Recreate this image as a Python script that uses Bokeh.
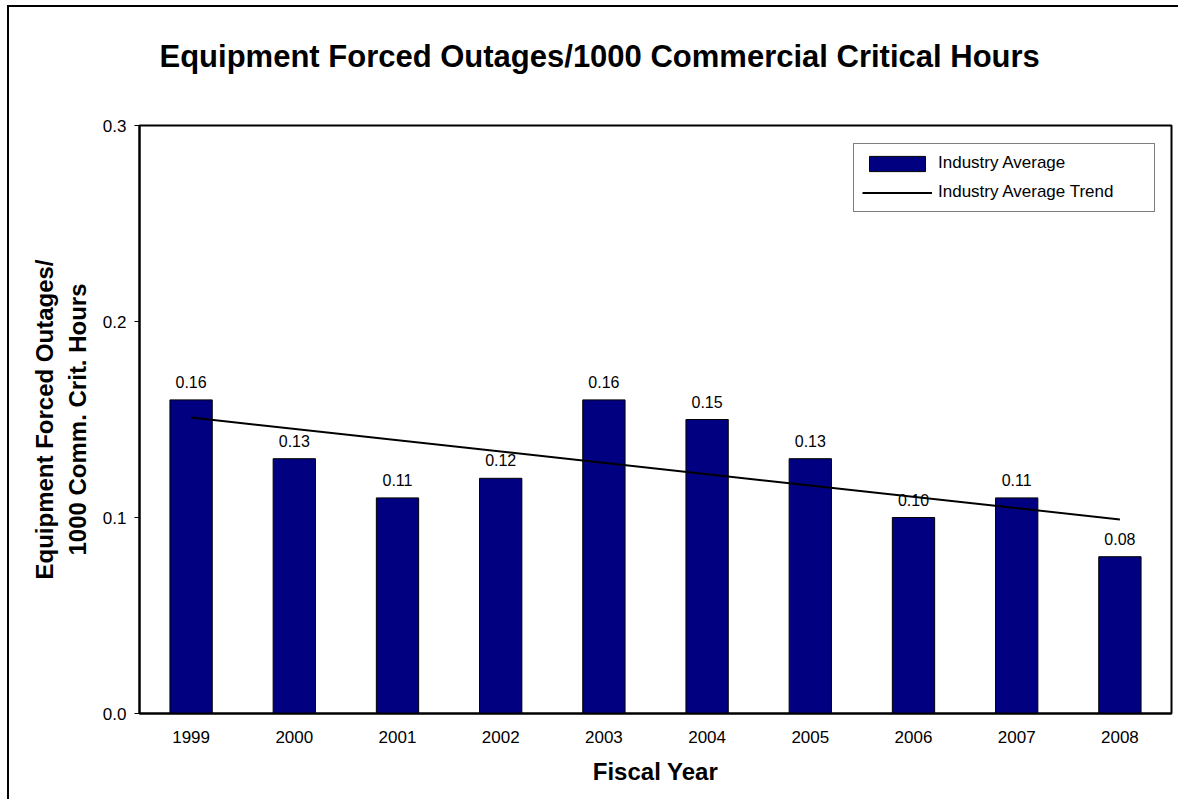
from bokeh.plotting import figure
from bokeh.models import ColumnDataSource, FixedTicker, NumeralTickFormatter, Title, Legend, LegendItem, Range1d, FactorRange
from bokeh.core.properties import value
from bokeh.embed import file_html
from bokeh.resources import INLINE

years = ["1999", "2000", "2001", "2002", "2003", "2004", "2005", "2006", "2007", "2008"]
industry_avg = [0.16, 0.13, 0.11, 0.12, 0.16, 0.15, 0.13, 0.10, 0.11, 0.08]
trend_years = ["1999", "2008"]
trend_vals = [0.151, 0.099]
y_ticks = [0.0, 0.1, 0.2, 0.3]

FONT = "Liberation Sans"

src = ColumnDataSource(dict(
    year=years,
    val=industry_avg,
    lbl=[f"{v:.2f}" for v in industry_avg],
))

p = figure(
    title="Equipment Forced Outages/1000 Commercial Critical Hours",
    x_range=FactorRange(*years, range_padding=0),
    y_range=Range1d(0, 0.3),
    frame_width=1032, frame_height=588,
    min_border_left=130, min_border_top=118, min_border_right=7, min_border_bottom=86,
    output_backend="svg", toolbar_location=None,
    background_fill_color="white", border_fill_color="white",
    styles={"border-left": "2px solid black", "border-top": "2px solid black",
            "margin-left": "7px", "margin-top": "5px"},
)

# spacer between frame and title (keeps the title high above the frame)
spacer = Title(text=" ", text_font_size="1px", standoff=49)
p.add_layout(spacer, "above")

p.title.align = "left"
p.title.offset = 20
p.title.standoff = 0
p.title.text_font = FONT
p.title.text_font_size = "31px"
p.title.text_font_style = "bold"
p.title.text_color = "black"

bars = p.vbar(x="year", top="val", width=0.41, source=src,
              fill_color="#000080", line_color="black", line_width=1)
trend = p.line(x=trend_years, y=trend_vals, line_color="black", line_width=2)

p.text(x="year", y="val", text="lbl", source=src, y_offset=-18,
       text_align="center", text_baseline="alphabetic",
       text_font=value(FONT), text_font_size="16px", text_color="black")

# grid / outline
p.xgrid.grid_line_color = None
p.ygrid.grid_line_color = None
p.outline_line_color = "black"
p.outline_line_width = 2
p.outline_line_alpha = 1

# y axis
p.yaxis.ticker = FixedTicker(ticks=y_ticks)
p.yaxis.formatter = NumeralTickFormatter(format="0.0")
p.yaxis.minor_tick_line_color = None
p.yaxis.major_tick_out = 5
p.yaxis.major_tick_in = 0
p.yaxis.major_label_standoff = 8
p.yaxis.axis_line_width = 2
p.yaxis.axis_line_color = "black"
p.yaxis.major_label_text_font = FONT
p.yaxis.major_label_text_font_size = "17px"
p.yaxis.major_label_text_color = "black"
p.yaxis.axis_label = "Equipment Forced Outages/\n1000 Comm. Crit. Hours"
p.yaxis.axis_label_text_font = FONT
p.yaxis.axis_label_text_font_size = "24px"
p.yaxis.axis_label_text_font_style = "bold"
p.yaxis.axis_label_text_color = "black"
p.yaxis.axis_label_standoff = 9

# x axis
p.xaxis.major_tick_line_color = None
p.xaxis.minor_tick_line_color = None
p.xaxis.major_label_standoff = 11
p.xaxis.axis_line_width = 2
p.xaxis.axis_line_color = "black"
p.xaxis.major_label_text_font = FONT
p.xaxis.major_label_text_font_size = "17px"
p.xaxis.major_label_text_color = "black"
p.xaxis.axis_label = "Fiscal Year"
p.xaxis.axis_label_text_font = FONT
p.xaxis.axis_label_text_font_size = "24px"
p.xaxis.axis_label_text_font_style = "bold"
p.xaxis.axis_label_text_color = "black"
p.xaxis.axis_label_standoff = 12

legend = Legend(
    items=[LegendItem(label="Industry Average", renderers=[bars]),
           LegendItem(label="Industry Average Trend", renderers=[trend])],
    location=(714, 501),
    glyph_width=70, glyph_height=19, label_height=22, label_width=208,
    label_standoff=6, padding=8, spacing=7, margin=0,
    label_text_font=FONT, label_text_font_size="17px", label_text_color="black",
    border_line_color="black", border_line_width=1,
    background_fill_color="white", background_fill_alpha=1,
)
p.add_layout(legend)

open("out.html", "w").write(file_html(p, INLINE))
